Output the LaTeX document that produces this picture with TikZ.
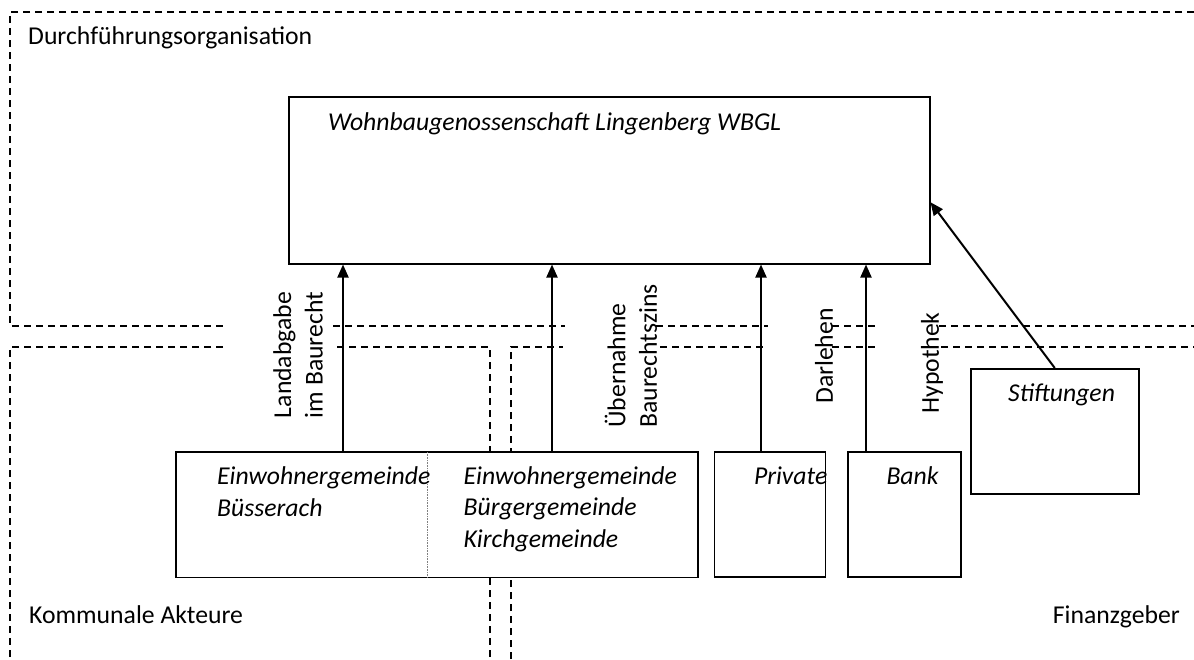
\documentclass[tikz,border=0pt]{standalone}
\usepackage{fontspec}
\setmainfont{Carlito}
\usetikzlibrary{arrows.meta, positioning}
\tikzset{>={Triangle[length=13pt, width=11pt]}}
\tikzset{every text node part/.style={align=left}}
\newcommand{\diafont}{\fontsize{25.7}{31.5}\selectfont}
\tikzset{
	box/.style={draw, line width=1.5pt, fill=white, inner sep=0pt, anchor=north west},
	boxtext/.style={anchor=base west, inner sep=0pt, font=\diafont\itshape},
	zonetext/.style={anchor=base west, inner sep=0pt, font=\diafont},
	flowlabel/.style={rotate=90, align=center, inner sep=0pt, font=\diafont},
	flow/.style={->, line width=2pt},
	zone/.style={line width=1.2pt, dash pattern=on 7pt off 5pt}
}

\begin{document}
\begin{tikzpicture}[x=1pt, y=-1pt, line join=miter]
	\useasboundingbox (0,0) rectangle (1194,659);
	
	% Zones (dashed)
	\draw[zone] (1194,12) -- (10,12) -- (10,326) -- (223,326);
	\draw[zone] (223,347) -- (10,347) -- (10,659);
	\draw[zone] (333,326) -- (565,326);
	\draw[zone] (337,347) -- (490,347) -- (490,659);
	\draw[zone] (511,659) -- (511,347) -- (563,347);
	\draw[zone] (656,326) -- (768,326);
	\draw[zone] (660,347) -- (765,347);
	\draw[zone] (832,326) -- (876,326);
	\draw[zone] (832,347) -- (875,347);
	\draw[zone] (939,326) -- (1194,326);
	\draw[zone] (941,347) -- (1194,347);
	
	\node[zonetext] (durch) at (28,44) {Durchführungsorganisation};
	\node[zonetext] (kommunal) at (29,623) {Kommunale Akteure};
	\node[zonetext, anchor=base east] (finanz) at (1180,623) {Finanzgeber};
	
	% Main box
	\node[box, minimum width=641, minimum height=167] (wbgl) at (288,96) {};
	\node[boxtext] (wbgltext) at ([shift={(40,34)}]wbgl.north west) {Wohnbaugenossenschaft Lingenberg WBGL};
	
	% Gemeinden
	\node[anchor=north west, inner sep=0pt, minimum width=251, minimum height=125] (ewb) at (176,452) {};
	\node[anchor=north west, inner sep=0pt, minimum width=270, minimum height=125] (ewg) at (ewb.north east) {};
	\draw[line width=1.5pt, fill=white] (ewb.north west) rectangle (ewg.south east);
	\draw[gray, line width=0.6pt, densely dotted] (ewb.north east) -- (ewb.south east);
	% (base of a multi-line node = last line)
	\node[boxtext] (ewbtext) at ([shift={(41,64)}]ewb.north west) {Einwohnergemeinde\\Büsserach};
	\node[boxtext] (ewgtext) at ([shift={(36,95)}]ewg.north west) {Einwohnergemeinde\\Bürgergemeinde\\Kirchgemeinde};
	
	% Finanzgeber
	\node[box, minimum width=111, minimum height=125, right=16pt of ewg] (private) {};
	\node[box, minimum width=113, minimum height=125, right=21pt of private] (bank) {};
	\node[box, minimum width=168, minimum height=125] (stift) at (970,368) {};
	\node[boxtext] (privatetext) at ([shift={(40,33)}]private.north west) {Private};
	\node[boxtext] (banktext) at ([shift={(39,33)}]bank.north west) {Bank};
	\node[boxtext] (stifttext) at ([shift={(38,33)}]stift.north west) {Stiftungen};
	
	% Arrows
	\foreach \src/\ax in {ewb/343, ewg/552, private/761, bank/866}
	{
		\draw[flow] (\src.north -| \ax,0) -- (wbgl.south -| \ax,0);
	}
	\draw[flow] (stift.north) -- ([yshift=-22pt]wbgl.east);
	
	% Labels
	\node[flowlabel] (landlbl) at (298,355) {Landabgabe\\im Baurecht};
	\node[flowlabel] (uebernlbl) at (631,356) {Übernahme\\Baurechtszins};
	\node[flowlabel] (darlbl) at (824,356) {Darlehen};
	\node[flowlabel] (hyplbl) at (932,363) {Hypothek};
\end{tikzpicture}
\end{document}
